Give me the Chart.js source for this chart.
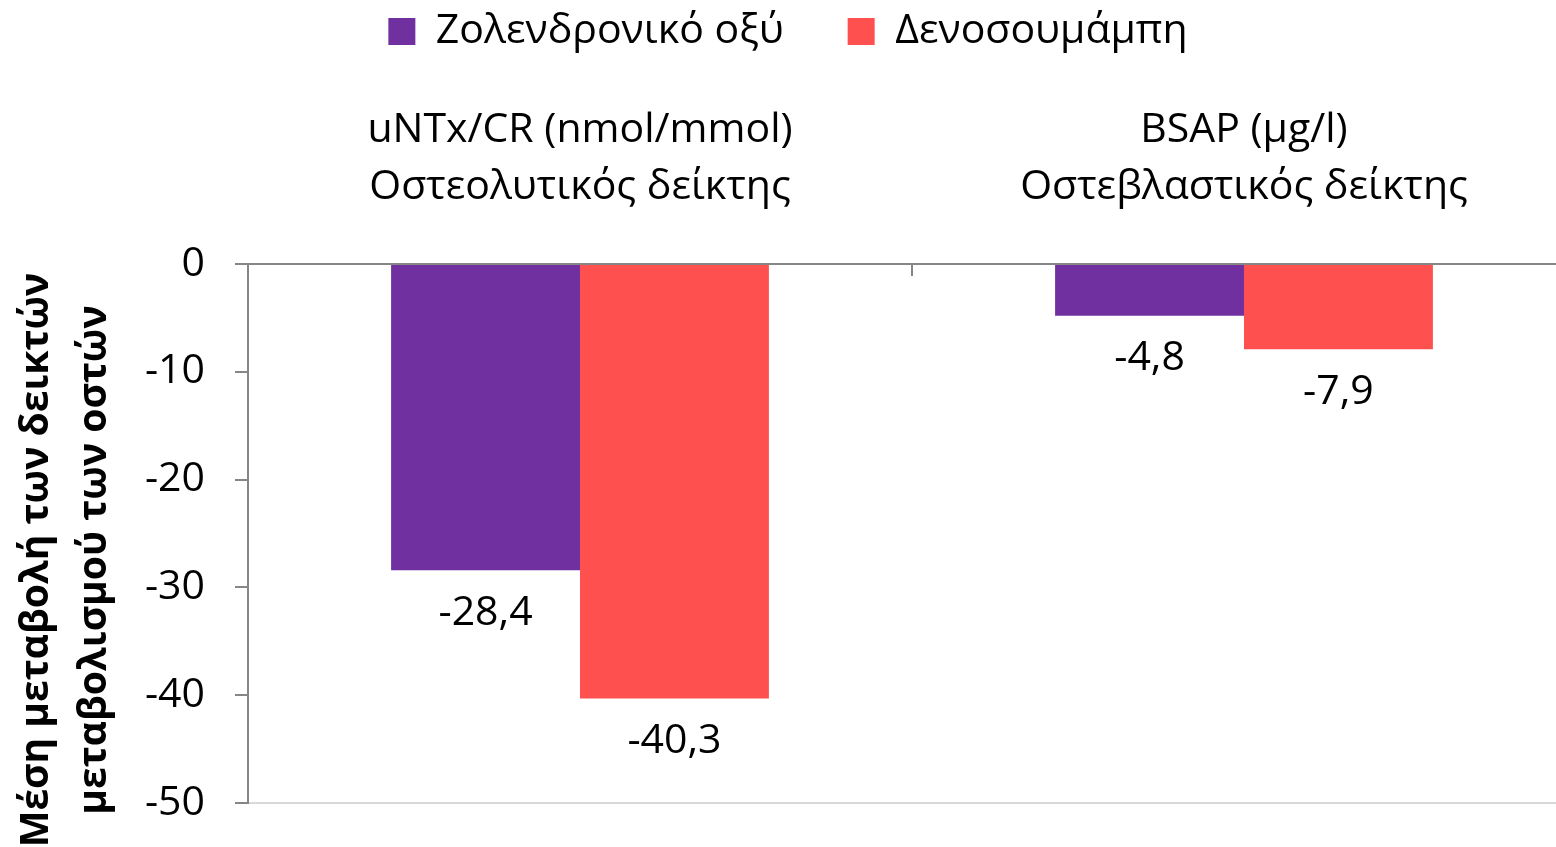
<!DOCTYPE html>
<html>
<head>
<meta charset="utf-8">
<script src="https://cdn.jsdelivr.net/npm/chart.js@4/dist/chart.umd.min.js"></script>
<style>
  html, body { margin: 0; padding: 0; background: #fff; overflow: hidden; }
  /* plot runs slightly past the right edge of the window */
  #wrap { width: 1576px; height: 847px; position: relative; }
</style>
</head>
<body>
<div id="wrap"><canvas id="c"></canvas></div>
<script>
// Categories (two-line axis labels) and series values
const categories = [
  ['uNTx/CR (nmol/mmol)', 'Οστεολυτικός δείκτης'],
  ['BSAP (μg/l)', 'Οστεβλαστικός δείκτης']
];
const zoledronicValues = [-28.4, -4.8];
const denosumabValues = [-40.3, -7.9];
const seriesNames = ['Ζολενδρονικό οξύ', 'Δενοσουμάμπη'];
const yTitleLines = ['Μέση μεταβολή των δεικτών', 'μεταβολισμού των οστών'];
const yMin = -50, yMax = 0, yStep = 10;

const FONT = "'Open Sans', 'DejaVu Sans', sans-serif";
const AXIS_GREY = '#868686';
const TEXT_SIZE = 41;

// Value labels under each bar, Greek decimal comma
const valueLabels = {
  id: 'valueLabels',
  afterDatasetsDraw(chart) {
    const ctx = chart.ctx;
    ctx.save();
    ctx.font = TEXT_SIZE + 'px ' + FONT;
    ctx.fillStyle = '#000';
    ctx.textAlign = 'center';
    ctx.textBaseline = 'middle';
    chart.data.datasets.forEach((ds, i) => {
      chart.getDatasetMeta(i).data.forEach((bar, j) => {
        const txt = ds.data[j].toFixed(1).replace('.', ',');
        ctx.fillText(txt, bar.x, bar.y + 43);
      });
    });
    ctx.restore();
  }
};

// Inward tick marks between categories on the top category axis
const categoryTicks = {
  id: 'categoryTicks',
  afterDraw(chart) {
    const x = chart.scales.x, ctx = chart.ctx;
    ctx.save();
    ctx.strokeStyle = AXIS_GREY;
    ctx.lineWidth = 2;
    for (let i = 1; i < categories.length; i++) {
      const px = Math.round((x.getPixelForValue(i - 1) + x.getPixelForValue(i)) / 2);
      ctx.beginPath();
      ctx.moveTo(px, x.bottom);
      ctx.lineTo(px, x.bottom + 12);
      ctx.stroke();
    }
    ctx.restore();
  }
};

// Rotated two-line y-axis title
const yTitle = {
  id: 'yTitle',
  afterDraw(chart) {
    const ctx = chart.ctx;
    ctx.save();
    ctx.font = 'bold 39px ' + FONT;
    ctx.fillStyle = '#000';
    ctx.textAlign = 'center';
    ctx.textBaseline = 'middle';
    const cy = 560;
    const xs = [37, 95];
    yTitleLines.forEach((line, i) => {
      ctx.save();
      ctx.translate(xs[i], cy);
      ctx.rotate(-Math.PI / 2);
      ctx.fillText(line, 0, 0);
      ctx.restore();
    });
    ctx.restore();
  }
};

new Chart(document.getElementById('c'), {
  type: 'bar',
  data: {
    labels: categories,
    datasets: [
      { label: seriesNames[0], data: zoledronicValues, backgroundColor: '#7030A0' },
      { label: seriesNames[1], data: denosumabValues, backgroundColor: '#FF5050' }
    ]
  },
  options: {
    responsive: true,
    maintainAspectRatio: false,
    animation: false,
    layout: { padding: { left: 0, right: 0, top: -53, bottom: 44 } },
    datasets: { bar: { categoryPercentage: 0.569, barPercentage: 1.0 } },
    plugins: {
      legend: {
        position: 'top',
        labels: {
          font: { family: FONT, size: TEXT_SIZE },
          color: '#000',
          boxWidth: 27,
          boxHeight: 27,
          padding: 64
        }
      },
      tooltip: { enabled: false }
    },
    scales: {
      x: {
        position: 'top',
        grid: { display: false, drawTicks: false },
        border: { display: true, color: AXIS_GREY, width: 2 },
        ticks: {
          font: { family: FONT, size: TEXT_SIZE, lineHeight: 1.39 },
          color: '#000',
          padding: 48,
          maxRotation: 0
        },
        afterFit(scale) { scale.height = 202; }
      },
      y: {
        min: yMin,
        max: yMax,
        grid: {
          drawOnChartArea: true,
          color: ctx => (ctx.tick && ctx.tick.value === yMin) ? '#d9d9d9' : 'rgba(0,0,0,0)',
          tickColor: AXIS_GREY,
          tickLength: 13,
          lineWidth: 2
        },
        border: { display: true, color: AXIS_GREY, width: 2 },
        ticks: {
          stepSize: yStep,
          font: { family: FONT, size: TEXT_SIZE },
          color: '#000',
          padding: 30
        },
        afterFit(scale) {
          scale.width = 248;
          scale.paddingTop = 0;
          scale.paddingBottom = 0;
        }
      }
    }
  },
  plugins: [valueLabels, categoryTicks, yTitle]
});
</script>
</body>
</html>
